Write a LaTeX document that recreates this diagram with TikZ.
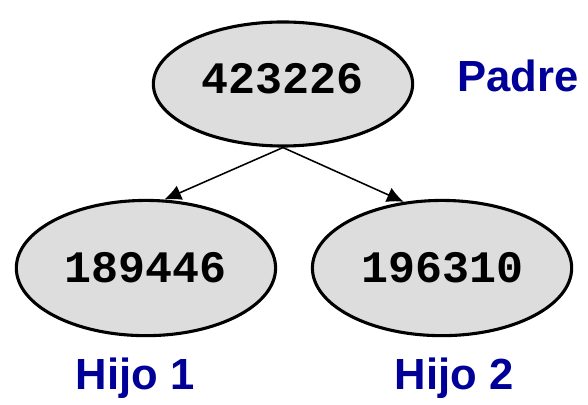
\documentclass[tikz,border=0pt]{standalone}
\usepackage{fontspec}
\setmainfont{Liberation Sans}
\newfontfamily\cifras{Liberation Mono}
\usepackage{xcolor}
\usetikzlibrary{shapes.geometric,arrows.meta,positioning}
\definecolor{azul}{RGB}{0,0,153}
\definecolor{relleno}{RGB}{221,221,221}

\begin{document}
\begin{tikzpicture}[
    x=0.025cm, y=-0.025cm,
    node distance=4.6cm,
    nodo/.style={ellipse, draw, fill=relleno, line width=2.2pt, minimum width=6.48cm, minimum height=3.38cm, inner sep=0pt, font=\cifras\bfseries\fontsize{32}{32}\selectfont},
    etiqueta/.style={text=azul, anchor=base, inner sep=0pt, font=\bfseries\fontsize{31}{31}\selectfont},
    arrow/.style={-{Latex[length=12pt,width=11pt]}, line width=1.1pt}
]
    \useasboundingbox (0,0) rectangle (588,405);
    \node[nodo, minimum height=3.1cm, text depth=0.3cm] (padre) at (283,84) {423226};
    \node[nodo, below of=padre, xshift=-3.425cm] (hijo1) {189446};
    \node[nodo, below of=padre, xshift=3.975cm] (hijo2) {196310};

    \node[etiqueta] (lpadre) at (518,92) {Padre};
    \node[etiqueta] (lhijo1) at (135,390) {Hijo 1};
    \node[etiqueta] (lhijo2) at (454,390) {Hijo 2};

    \draw[arrow] (padre.south) -- (hijo1.75);
    \draw[arrow] (padre.south) -- (hijo2.120);
\end{tikzpicture}
\end{document}
